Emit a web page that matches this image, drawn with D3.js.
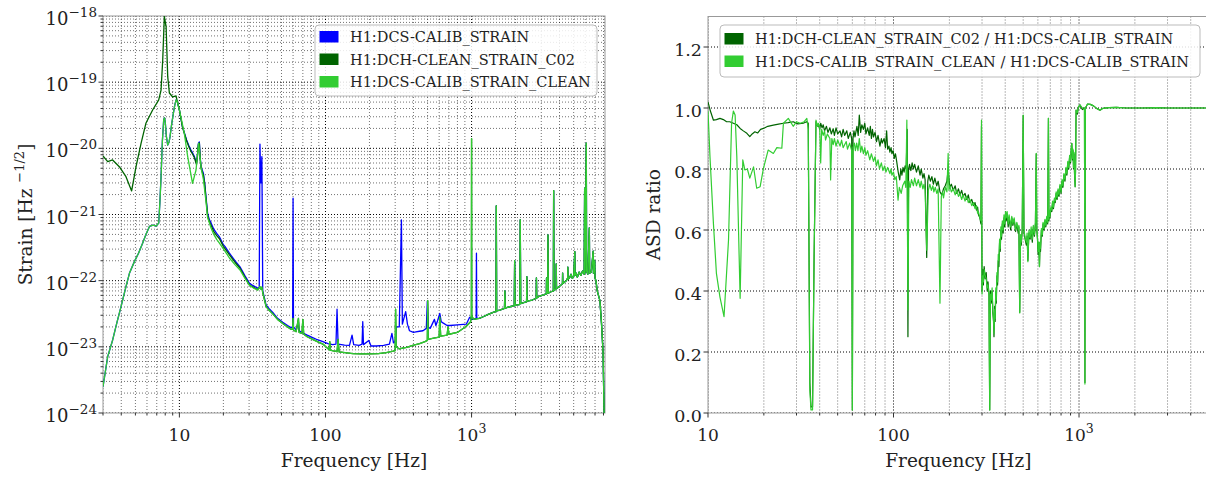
<!DOCTYPE html>
<html>
<head>
<meta charset="utf-8">
<script src="https://cdn.jsdelivr.net/npm/d3@7"></script>
<style>
  body { margin: 0; background: #fff; }
  svg { display: block; }
  text { font-family: "DejaVu Serif", serif; fill: #222; }
</style>
</head>
<body>
<svg id="chart" width="1206" height="478"></svg>
<script>
// ---------- Amplitude spectral densities, [frequency Hz, strain / sqrt(Hz)] ----------

// H1:DCS-CALIB_STRAIN, 3 Hz - 1.13 kHz
const calibBand = [
  [3.0,2.5e-24],[3.23,7.1e-24],[3.49,1.26e-23],[3.75,2.4e-23],[3.99,4.1e-23],[4.3,8e-23],[4.55,1.29e-22],
  [4.92,1.94e-22],[5.25,2.6e-22],[5.6,3.67e-22],[5.9,5.0e-22],[6.24,6.6e-22],[6.6,6.9e-22],[6.93,6.7e-22],
  [7.22,7.4e-22],[7.35,1.5e-21],[7.49,3.7e-21],[7.65,1.3e-20],[7.81,2.7e-20],[7.9,2.9e-20],[7.99,2.6e-20],
  [8.15,1.5e-20],[8.32,1.12e-20],[8.5,1.25e-20],[8.63,1.5e-20],[8.85,2.3e-20],[9.1,3.4e-20],[9.3,4.5e-20],
  [9.49,5.4e-20],[9.7,5.0e-20],[10.0,3.8e-20],[10.5,2.1e-20],[11.2,1.34e-20],[11.6,1.1e-20],[12.0,9.4e-21],
  [12.3,8.6e-21],[12.67,7.5e-21],[13.1,5.9e-21],[13.3,8e-21],[13.5,1.2e-20],[13.7,1.25e-20],[13.9,7e-21],
  [14.1,5.2e-21],[14.6,4.2e-21],[14.9,3e-21],[15.2,1.86e-21],[15.6,1.04e-21],[16.0,8.5e-22],[16.5,7.4e-22],
  [17.2,6.0e-22],[18.0,5.2e-22],[18.8,4.6e-22],[20.0,3.5e-22],[20.5,3.3e-22],[22.0,2.6e-22],[24.0,2.0e-22],
  [26.0,1.62e-22],[28,1.2e-22],[30.2,9.1e-23],[32,8.4e-23],[34.4,7.7e-23],[35.2,7.8e-23],[35.6,1.16e-20],
  [36.1,3.0e-21],[36.7,7.5e-21],[37.2,7.0e-23],[39.2,4.3e-23],[41,3.8e-23],[43.6,3.3e-23],[47,2.7e-23],
  [51,2.35e-23],[55,2.1e-23],[58,1.95e-23],[59.6,2e-23],[60,1.76e-21],[60.4,2e-23],[63,1.8e-23],[65.3,2.4e-23],
  [66,1.75e-23],[70,1.62e-23],[75,1.5e-23],[81.7,1.38e-23],[88,1.28e-23],[96,1.2e-23],[104,1.12e-23],
  [112,1.08e-23],[118,1.1e-23],[120,3.7e-23],[122,1.1e-23],[135,1.06e-23],[146,1.05e-23],[152,1.5e-23],
  [156,1.08e-23],[170,1.05e-23],[178,1.1e-23],[180,2.4e-23],[182,1.08e-23],[198,1.25e-23],[205,1.03e-23],
  [222,1.03e-23],[250,1.05e-23],[274,1.1e-23],[285,1.6e-23],[292,1.15e-23],[300,1.2e-23],[305,2.0e-23],
  [320,2.0e-23],[331,8.3e-22],[336,2.2e-23],[354,3.4e-23],[364,2.2e-23],[376,1.75e-23],[400,1.65e-23],
  [416,1.68e-23],[440,1.72e-23],[465,1.75e-23],[490,1.9e-23],[498,4.9e-23],[506,2.0e-23],[521,1.9e-23],
  [557,2.6e-23],[570,2.1e-23],[586,2.5e-23],[606,3.2e-23],[620,2.4e-23],[637,2.3e-23],[680,2.1e-23],
  [711,2.1e-23],[800,2.15e-23],[920,2.2e-23],[970,2.8e-23],[1000,2.6e-23],[1030,2.6e-23],[1075,2.7e-23],
  [1080,2.6e-22],[1086,2.7e-23]
];

// H1:DCH-CLEAN_STRAIN_C02, 3 - 40 Hz
const c02Band = [
  [3.0,7.66e-21],[3.23,6.3e-21],[3.49,6.67e-21],[3.88,5.28e-21],[4.31,3.73e-21],[4.71,2.27e-21],[5.05,5.3e-21],
  [5.47,1.2e-20],[5.91,2.42e-20],[6.56,3.8e-20],[7.22,5.4e-20],[7.49,7.6e-20],[7.69,2.16e-19],[7.89,9.8e-19],
  [8.11,6.9e-19],[8.32,1.21e-19],[8.54,6.85e-20],[9.0,5.97e-20],[9.49,6.2e-20],[9.7,5.0e-20],[10.0,3.8e-20],
  [10.5,2.1e-20],[11.2,1.3e-20],[11.6,1.06e-20],[12.0,9.0e-21],[12.3,8.2e-21],[12.67,7.2e-21],[13.1,5.7e-21],
  [13.3,7.7e-21],[13.5,1.15e-20],[13.7,1.2e-20],[13.9,6.7e-21],[14.1,4.9e-21],[14.6,3.9e-21],[14.9,2.8e-21],
  [15.2,1.75e-21],[15.6,9.7e-22],[16.0,7.9e-22],[16.5,6.8e-22],[17.2,5.5e-22],[18.0,4.8e-22],[18.8,4.3e-22],
  [20.0,3.3e-22],[22.0,2.45e-22],[24.0,1.9e-22],[26.0,1.54e-22],[28,1.14e-22],[30.2,8.6e-23],[32,8.0e-23],
  [34.4,7.3e-23],[35.6,8.1e-23],[36.2,7.4e-23],[36.7,8e-23],[37.2,6.6e-23],[39.2,4.1e-23]
];

// H1:DCS-CALIB_STRAIN_CLEAN, 3 - 40 Hz
const cleanBand = [
  [3.0,2.5e-24],[3.23,7.1e-24],[3.49,1.26e-23],[3.75,2.4e-23],[3.99,4.1e-23],[4.3,8e-23],[4.55,1.29e-22],
  [4.92,1.94e-22],[5.25,2.6e-22],[5.6,3.67e-22],[5.9,5.0e-22],[6.24,6.6e-22],[6.6,6.9e-22],[6.93,6.7e-22],
  [7.22,7.4e-22],[7.35,1.5e-21],[7.49,3.7e-21],[7.65,1.3e-20],[7.81,2.7e-20],[7.9,2.9e-20],[7.99,2.6e-20],
  [8.15,1.5e-20],[8.32,1.12e-20],[8.5,1.25e-20],[8.63,1.5e-20],[8.85,2.3e-20],[9.1,3.4e-20],[9.3,4.5e-20],
  [9.49,5.4e-20],[9.7,5.0e-20],[10.0,3.8e-20],[10.8,1.7e-20],[11.4,7.5e-21],[12.3,2.96e-21],[13.0,4.7e-21],
  [13.3,8e-21],[13.55,1.2e-20],[13.8,8e-21],[14.1,5e-21],[14.6,3.4e-21],[15.2,1.6e-21],[15.6,9.0e-22],
  [16.5,6.2e-22],[17.2,5.0e-22],[18,4.2e-22],[18.8,3.7e-22],[20.5,2.8e-22],[22,2.2e-22],[24,1.75e-22],
  [26,1.45e-22],[28,1.1e-22],[30.2,8.5e-23],[32,7.8e-23],[34.4,7.2e-23],[35.6,8.1e-23],[36.2,7.4e-23],
  [36.7,8e-23],[37.2,6.6e-23],[39.2,4.1e-23]
];

// Both cleaned channels, 40 Hz - 1.13 kHz
const cleanedMid = [
  [41,3.6e-23],[43.6,3.15e-23],[47,2.6e-23],[51,2.25e-23],[55,2.0e-23],[58,1.85e-23],[59.6,1.85e-23],
  [60,2.7e-23],[60.4,1.8e-23],[63,1.7e-23],[65.3,2.7e-23],[66,1.65e-23],[69,1.6e-23],[70,2.6e-23],
  [71,1.55e-23],[75,1.42e-23],[81.7,1.3e-23],[88,1.2e-23],[96,1.1e-23],[106,9.0e-24],[107,1.2e-23],
  [108,8.9e-24],[113,8.7e-24],[120,8.5e-24],[122,1.3e-23],[124,8.4e-24],[140,8.1e-24],[154,7.9e-24],
  [175,7.8e-24],[200,7.8e-24],[230,7.9e-24],[261,8.2e-24],[290,8.6e-24],[300,8.8e-24],[302,3.7e-23],
  [305,1.0e-23],[320,9.3e-24],[338,9.6e-24],[360,9.8e-24],[396,1.05e-23],[441,1.12e-23],[480,1.2e-23],
  [498,1.25e-23],[501,5.0e-23],[505,1.3e-23],[550,1.35e-23],[600,1.4e-23],[606,2.8e-23],[615,1.45e-23],
  [680,1.5e-23],[690,2.0e-23],[700,1.55e-23],[800,1.65e-23],[920,2.05e-23],[985,2.4e-23],[997,3e-23],
  [1000,1.4e-20],[1003,3e-23],[1030,2.6e-23]
];

// All three channels, 1.13 kHz - Nyquist
const highBand = [
  [1130,2.7e-23],[1200,2.85e-23],[1300,3.1e-23],[1420,3.35e-23],[1470,3.4e-23],[1477,1.35e-21],[1485,3.5e-23],
  [1560,3.6e-23],[1680,3.8e-23],[1690,7e-23],[1700,3.85e-23],[1800,4.0e-23],[1960,4.2e-23],[1972,2.0e-22],
  [1985,4.2e-23],[2050,4.3e-23],[2120,4.35e-23],[2140,4.5e-23],[2154,8.3e-22],[2170,4.5e-23],[2300,4.7e-23],
  [2380,4.8e-23],[2390,1.15e-22],[2400,4.9e-23],[2600,5.1e-23],[2770,5.4e-23],[2780,1.1e-22],[2795,5.5e-23],
  [2900,5.8e-23],[3100,6.1e-23],[3250,6.3e-23],[3260,1.1e-22],[3275,6.4e-23],[3320,6.5e-23],[3335,4.9e-22],
  [3350,6.5e-23],[3500,6.8e-23],[3630,7.0e-23],[3647,2.3e-21],[3665,7.1e-23],[3790,7.5e-23],[3800,1.8e-22],
  [3815,7.6e-23],[4000,8.2e-23],[4190,9.0e-23],[4200,1.3e-22],[4215,9.1e-23],[4450,1.0e-22],[4550,1.1e-22],
  [4560,1.6e-22],[4580,1.05e-22],[4700,1.12e-22],[4800,1.25e-22],[4900,1.08e-22],[5000,1.15e-22],
  [5090,2.75e-22],[5110,1.2e-22],[5200,1.3e-22],[5300,1.12e-22],[5450,1.35e-22],[5600,1.2e-22],[5750,1.4e-22],
  [5900,1.25e-22],[5943,2.5e-21],[5980,1.3e-22],[6100,1.2e-20],[6130,1.4e-22],[6250,1.25e-22],[6400,6.3e-22],
  [6430,1.3e-22],[6600,1.35e-22],[6800,2.8e-22],[6830,1.3e-22],[6970,2.0e-22],[7000,1.1e-22],[7100,1.0e-22],
  [7250,7e-23],[7560,5e-23],[7750,2.3e-23],[7950,8e-24],[8050,1.5e-24],[8150,3e-25]
];

// ---------- ASD ratios against H1:DCS-CALIB_STRAIN, [frequency Hz, ratio] ----------
const ratioC02 = [
  [10,1.02],[10.3,0.99],[10.7,0.96],[11.1,0.962],[11.6,0.966],[12.1,0.962],[12.6,0.955],[13.1,0.955],
  [13.7,0.95],[14.3,0.945],[14.9,0.933],[15.5,0.925],[16.2,0.917],[16.8,0.906],[17.3,0.915],[17.9,0.922],
  [18.5,0.918],[19.2,0.93],[19.9,0.933],[21,0.94],[22.5,0.944],[24,0.947],[25.5,0.95],[27,0.952],[28.8,0.955],
  [30.5,0.948],[32.6,0.95],[34,0.955],[34.7,0.95],[35.4,0.1],[35.9,0.02],[36.6,0.02],[37.3,0.5],
  [38.2,0.955],[39,0.94],[39.4,0.945],[40,0.93],[40.5,0.95],[41.2,0.935],[41.8,0.945],[42.5,0.925],
  [43.5,0.94],[44.3,0.92],[45.4,0.935],[46.2,0.915],[47.3,0.932],[48,0.91],[49,0.935],[50,0.915],
  [51.5,0.925],[52.5,0.905],[53.5,0.93],[54.5,0.91],[56,0.925],[57,0.9],[58.5,0.92],[59.5,0.9],[60,0.01],
  [60.5,0.9],[61.2,0.925],[62,0.905],[63.5,0.94],[64.5,0.91],[65.4,0.977],[66.5,0.92],[67.5,0.945],
  [68.8,0.93],[70,0.95],[71,0.915],[72.5,0.935],[74,0.91],[75,0.94],[76,0.9],[77,0.93],[78,0.905],
  [79.5,0.92],[81,0.89],[82.5,0.91],[84.5,0.875],[86,0.9],[87,0.885],[89,0.9],[90.5,0.87],[91.8,0.925],
  [93,0.865],[94.5,0.875],[95.6,0.855],[97,0.87],[98,0.85],[99.5,0.86],[101,0.835],[102.5,0.85],[104,0.825],
  [106,0.79],[108,0.764],[109.5,0.8],[111,0.78],[112.5,0.805],[114,0.79],[115.5,0.81],[117,0.8],[118.5,0.93],
  [119.6,0.25],[120.5,0.8],[122,0.815],[124,0.795],[126,0.82],[128,0.8],[130,0.815],[133,0.79],[136,0.81],
  [139,0.78],[141,0.8],[144,0.77],[146,0.785],[148,0.765],[151,0.51],[153,0.76],[155,0.78],[158,0.76],
  [161,0.775],[164,0.75],[167,0.77],[171,0.745],[174,0.76],[178,0.725],[182,0.715],[186,0.735],[190,0.745],
  [194,0.76],[197,0.8],[201,0.74],[205,0.75],[210,0.73],[215,0.745],[219,0.72],[224,0.735],[228,0.715],
  [233,0.73],[237,0.71],[243,0.72],[248,0.7],[253,0.715],[258,0.69],[264,0.7],[270,0.68],[275,0.69],
  [280,0.665],[284,0.675],[287,0.65],[292,0.64],[296,0.62],[298,0.94],[300,0.4],[303,0.47],[305,0.42],
  [308,0.48],[312,0.44],[316,0.46],[320,0.4],[323,0.43],[327,0.39],[330,0.01],[333,0.4],[336,0.36],[340,0.4],
  [343,0.33],[346,0.3],[348,0.25],[351,0.35],[353,0.3],[356,0.4],[358,0.36],[361,0.45],[364,0.42],[367,0.5],
  [370,0.48],[373,0.56],[376,0.53],[379,0.6],[382,0.57],[386,0.62],[390,0.59],[394,0.64],[398,0.61],
  [402,0.66],[405,0.63],[410,0.65],[415,0.61],[420,0.64],[428,0.6],[434,0.64],[440,0.615],[447,0.635],
  [455,0.595],[462,0.62],[470,0.59],[474,0.61],[479,0.33],[484,0.58],[488,0.55],[494,0.6],[500,0.975],
  [505,0.59],[512,0.57],[520,0.55],[525,0.58],[530,0.5],[537,0.59],[545,0.57],[552,0.6],[560,0.56],
  [567,0.61],[575,0.58],[582,0.62],[588,0.85],[592,0.6],[597,0.57],[602,0.52],[607,0.55],[612,0.48],
  [616,0.55],[620,0.53],[627,0.6],[634,0.58],[640,0.62],[647,0.6],[655,0.63],[662,0.61],[670,0.64],
  [678,0.62],[684,0.966],[688,0.63],[693,0.66],[697,0.64],[705,0.67],[713,0.66],[720,0.69],[728,0.67],
  [737,0.7],[745,0.69],[753,0.72],[762,0.7],[771,0.73],[780,0.71],[790,0.745],[800,0.72],[810,0.76],
  [819,0.74],[829,0.78],[840,0.76],[850,0.8],[860,0.78],[870,0.82],[880,0.8],[890,0.84],[900,0.82],
  [907,0.86],[914,0.884],[922,0.83],[928,0.86],[934,0.8],[940,0.85],[946,0.78],[953,0.742],[958,0.8],
  [964,0.993],[979,0.98],[993,1.004],[1012,1.01],[1042,0.995],[1070,1.0],[1076,0.1],[1082,1.0],
  [1112,1.013],[1150,1.012],[1197,1.007],[1250,0.998],[1297,0.993],[1346,0.999],[1450,1.001],[1594,1.002],
  [1800,1.0],[2200,1.0],[2600,1.001],[3000,1.0],[3500,1.0],[4000,1.0],[4500,1.0],[5000,1.0]
];

const ratioClean = [
  [10,0.99],[10.25,0.84],[10.7,0.62],[11.1,0.458],[11.6,0.38],[12.2,0.316],[12.9,0.567],[13.4,0.95],
  [13.7,0.99],[14.0,0.977],[14.3,0.84],[14.9,0.376],[15.4,0.83],[15.8,0.797],[16.3,0.8],[16.8,0.77],
  [17.6,0.807],[18.3,0.737],[19.1,0.742],[19.9,0.802],[21.1,0.862],[22.5,0.851],[23.5,0.87],[25,0.868],
  [25.5,0.95],[27.1,0.966],[28.8,0.94],[30,0.955],[31.4,0.95],[33,0.955],[34.1,0.966],[34.7,0.93],
  [35.4,0.075],[35.9,0.01],[36.6,0.01],[37.3,0.51],
  [38.2,0.96],[39,0.94],[39.4,0.95],[40,0.935],[40.5,0.82],[41,0.93],[41.8,0.91],[42.5,0.925],[43,0.895],
  [44,0.915],[45.4,0.9],[45.8,0.764],[46.5,0.9],[47.3,0.88],[48,0.9],[49,0.875],[50,0.895],[51.5,0.875],
  [52.5,0.895],[53.5,0.87],[55.6,0.89],[56.5,0.865],[58,0.885],[59.5,0.86],[60,0.01],[60.5,0.87],
  [61.5,0.885],[62.3,0.86],[63.3,0.885],[64.3,0.86],[65.4,0.9],[66.5,0.855],[67.5,0.875],[68.8,0.85],
  [70,0.87],[71,0.845],[72.5,0.86],[74.5,0.83],[76,0.85],[78,0.825],[79.5,0.84],[80.9,0.81],[82.5,0.83],
  [84,0.8],[86,0.82],[87.7,0.795],[89.5,0.81],[91,0.79],[93,0.805],[95.6,0.785],[97,0.8],[98,0.78],
  [100,0.79],[101.6,0.765],[103.5,0.775],[105.8,0.698],[107.5,0.74],[110,0.72],[112,0.745],[115,0.76],
  [116.5,0.74],[118,0.96],[119.6,0.338],[121,0.76],[123,0.74],[125,0.765],[128,0.745],[130,0.77],
  [133,0.745],[136,0.765],[139,0.74],[141,0.76],[144,0.735],[146,0.75],[148,0.73],[151,0.534],[154,0.73],
  [157,0.75],[160,0.73],[163,0.745],[165,0.725],[168,0.74],[171,0.72],[174,0.735],[178,0.36],[181,0.71],
  [184,0.725],[186,0.705],[190,0.74],[194,0.725],[197,0.851],[199,0.73],[201,0.745],[205,0.725],[210,0.735],
  [215,0.715],[219,0.73],[224,0.71],[228,0.72],[233,0.7],[237,0.715],[243,0.695],[248,0.71],[253,0.69],
  [258,0.7],[264,0.68],[270,0.69],[275,0.67],[280,0.68],[284,0.655],[287,0.66],[292,0.64],[296,0.63],
  [298,0.96],[300,0.39],[303,0.45],[305,0.43],[308,0.47],[312,0.45],[316,0.44],[320,0.41],[323,0.42],
  [327,0.385],[330,0.01],[333,0.39],[336,0.37],[340,0.41],[343,0.34],[346,0.31],[348,0.26],[351,0.34],
  [353,0.31],[356,0.41],[358,0.37],[361,0.46],[364,0.43],[367,0.52],[370,0.5],[373,0.57],[376,0.54],
  [379,0.61],[382,0.58],[386,0.63],[390,0.6],[394,0.65],[398,0.62],[402,0.66],[405,0.64],[410,0.66],
  [415,0.62],[420,0.65],[428,0.61],[434,0.645],[440,0.62],[447,0.64],[455,0.6],[462,0.625],[470,0.6],
  [474,0.615],[479,0.328],[484,0.585],[488,0.56],[494,0.6],[500,0.977],[505,0.6],[512,0.575],[520,0.56],
  [525,0.59],[530,0.496],[537,0.6],[545,0.575],[552,0.61],[560,0.57],[567,0.615],[575,0.585],[582,0.625],
  [588,0.851],[592,0.61],[597,0.575],[602,0.53],[607,0.56],[612,0.48],[616,0.56],[620,0.54],[627,0.605],
  [634,0.585],[640,0.625],[647,0.605],[655,0.635],[662,0.615],[670,0.645],[678,0.625],[684,0.966],
  [688,0.635],[693,0.665],[697,0.645],[705,0.675],[713,0.665],[720,0.695],[728,0.675],[737,0.705],
  [745,0.695],[753,0.725],[762,0.705],[771,0.735],[780,0.715],[790,0.75],[800,0.725],[810,0.765],
  [819,0.745],[829,0.785],[840,0.765],[850,0.805],[860,0.785],[870,0.825],[880,0.805],[890,0.845],
  [900,0.825],[907,0.865],[914,0.884],[922,0.835],[928,0.865],[934,0.805],[940,0.855],[946,0.785],
  [953,0.742],[958,0.805],[964,0.993],[979,0.985],[993,1.004],[1012,1.01],[1042,1.0],[1070,1.0],
  [1076,0.095],[1082,1.0],[1112,1.013],[1150,1.012],[1197,1.007],[1250,0.998],[1297,0.993],[1346,0.999],
  [1450,1.001],[1594,1.002],[1800,1.0],[2200,1.0],[2600,1.001],[3000,1.0],[3500,1.0],[4000,1.0],
  [4500,1.0],[5000,1.0]
];

// ---------- Labels ----------
const asdSeries = [
  { name: "H1:DCS-CALIB_STRAIN",       color: "#0000ff", data: calibBand.concat(highBand) },
  { name: "H1:DCH-CLEAN_STRAIN_C02",   color: "#006400", data: c02Band.concat(cleanedMid, highBand) },
  { name: "H1:DCS-CALIB_STRAIN_CLEAN", color: "#32cd32", data: cleanBand.concat(cleanedMid, highBand) }
];
const ratioSeries = [
  { name: "H1:DCH-CLEAN_STRAIN_C02 / H1:DCS-CALIB_STRAIN",   color: "#006400", data: ratioC02 },
  { name: "H1:DCS-CALIB_STRAIN_CLEAN / H1:DCS-CALIB_STRAIN", color: "#32cd32", data: ratioClean }
];
const asdYTicks = [-24, -23, -22, -21, -20, -19, -18];   // decade exponents
const freqTicks = [10, 100, 1000];
const ratioTicks = [0.0, 0.2, 0.4, 0.6, 0.8, 1.0, 1.2];

// ---------- Drawing ----------
const svg = d3.select("#chart");

const xL = d3.scaleLog().domain([3, 8192]).range([103, 605]);
const yL = d3.scaleLog().domain([1e-24, 1e-18]).range([413, 16]);
const xR = d3.scaleLog().domain([10, 5000]).range([708, 1208.7]);
const yR = d3.scaleLinear().domain([0, 1.3]).range([413, 16.5]);

function logMinor(domain) {
  const out = [];
  const lo = Math.floor(Math.log10(domain[0])), hi = Math.ceil(Math.log10(domain[1]));
  for (let e = lo; e <= hi; e++) for (let k = 2; k <= 9; k++) {
    const v = k * Math.pow(10, e);
    if (v >= domain[0] * 0.999 && v <= domain[1] * 1.001) out.push(v);
  }
  return out;
}

function freqLabel(sel, v) {
  if (v >= 1000) {
    sel.append("tspan").text("10");
    sel.append("tspan").attr("dy", -8).attr("font-size", 12.5).text(String(Math.round(Math.log10(v))));
  } else sel.text(String(v));
}

function panel(cfg) {
  const { x, y, id } = cfg;
  const [x0, x1] = x.range(); const [y1, y0] = y.range();
  const g = svg.append("g");
  g.append("clipPath").attr("id", id).append("rect")
    .attr("x", x0).attr("y", y0).attr("width", x1 - x0).attr("height", y1 - y0);

  const grid = g.append("g").attr("clip-path", `url(#${id})`);
  const gl = (vals, vert, major) => grid.selectAll(null).data(vals).enter().append("line")
    .attr("x1", d => vert ? x(d) : x0).attr("x2", d => vert ? x(d) : x1)
    .attr("y1", d => vert ? y0 : y(d)).attr("y2", d => vert ? y1 : y(d))
    .attr("stroke", "#000").attr("stroke-opacity", major ? 1 : 0.7)
    .attr("stroke-width", major ? 1 : 0.8).attr("stroke-dasharray", "1,2");
  gl(cfg.xMinor, true, false); gl(cfg.xMajor, true, true);
  if (cfg.yMinor) gl(cfg.yMinor, false, false);
  gl(cfg.yMajor, false, true);

  // spines
  g.append("rect").attr("x", x0).attr("y", y0).attr("width", x1 - x0).attr("height", y1 - y0)
    .attr("fill", "none").attr("stroke", "#999").attr("stroke-width", 1);

  const lines = g.append("g").attr("clip-path", `url(#${id})`);
  const line = d3.line().x(d => x(d[0])).y(d => y(d[1]));
  cfg.series.forEach(s => lines.append("path").datum(s.data).attr("d", line)
    .attr("fill", "none").attr("stroke", s.color).attr("stroke-width", cfg.lw)
    .attr("stroke-linejoin", "round"));

  // ticks
  const tk = g.append("g").attr("stroke", "#333");
  tk.selectAll(null).data(cfg.xMajor).enter().append("line")
    .attr("x1", d => x(d)).attr("x2", d => x(d)).attr("y1", y1).attr("y2", y1 + 4.5);
  tk.selectAll(null).data(cfg.xMinor).enter().append("line")
    .attr("x1", d => x(d)).attr("x2", d => x(d)).attr("y1", y1).attr("y2", y1 + 2.5);
  tk.selectAll(null).data(cfg.yMajor).enter().append("line")
    .attr("x1", x0 - 4.5).attr("x2", x0).attr("y1", d => y(d)).attr("y2", d => y(d));
  if (cfg.yMinor) tk.selectAll(null).data(cfg.yMinor).enter().append("line")
    .attr("x1", x0 - 2.5).attr("x2", x0).attr("y1", d => y(d)).attr("y2", d => y(d));

  // tick labels
  cfg.xMajor.forEach(v => {
    const t = g.append("text").attr("x", x(v)).attr("y", 441).attr("text-anchor", "middle")
      .attr("font-size", 17);
    freqLabel(t, v);
  });
  cfg.yMajor.forEach(v => {
    const t = g.append("text").attr("x", x0 - 6).attr("y", y(v) + 9).attr("text-anchor", "end")
      .attr("font-size", cfg.yTickSize);
    cfg.yLabel(t, v);
  });

  // axis titles
  g.append("text").attr("x", (x0 + x1) / 2).attr("y", 467).attr("text-anchor", "middle")
    .attr("font-size", 18.5).text("Frequency [Hz]");
  const yt = g.append("text").attr("transform", `translate(${cfg.yTitleX},${(y0 + y1) / 2}) rotate(-90)`)
    .attr("text-anchor", "middle").attr("font-size", 18.5);
  cfg.yTitle(yt);

  // legend
  const L = cfg.legend;
  const lg = g.append("g");
  lg.append("rect").attr("x", L.x).attr("y", L.y).attr("width", L.w).attr("height", L.h).attr("rx", 4)
    .attr("fill", "#fff").attr("fill-opacity", 0.85).attr("stroke", "#bbb").attr("stroke-width", 1);
  cfg.series.forEach((s, i) => {
    const yy = L.y + L.first + i * L.step;
    lg.append("rect").attr("x", L.x + 4.5).attr("y", yy - 11).attr("width", 19).attr("height", 11.5)
      .attr("fill", s.color);
    lg.append("text").attr("x", L.x + 35).attr("y", yy).attr("font-size", 14.5).text(s.name);
  });
}

panel({
  id: "clipAsd", x: xL, y: yL, lw: 1.3, yTickSize: 18,
  xMajor: freqTicks.filter(v => v >= 3 && v <= 8192), xMinor: logMinor([3, 8192]),
  yMajor: asdYTicks.map(e => Math.pow(10, e)), yMinor: logMinor([1e-24, 1e-18]),
  yLabel: (t, v) => {
    t.append("tspan").text("10");
    t.append("tspan").attr("dy", -8).attr("font-size", 13.5).text("\u2212" + Math.abs(Math.round(Math.log10(v))));
  },
  yTitleX: 32,
  yTitle: t => {
    t.append("tspan").text("Strain [Hz ");
    t.append("tspan").attr("dy", -8).attr("font-size", 13).text("\u22121/2");
    t.append("tspan").attr("dy", 8).text("]");
  },
  series: asdSeries,
  legend: { x: 315, y: 25, w: 282, h: 71, first: 17, step: 22.5 }
});

panel({
  id: "clipRatio", x: xR, y: yR, lw: 1.2, yTickSize: 17.5,
  xMajor: freqTicks, xMinor: logMinor([10, 5000]),
  yMajor: ratioTicks, yMinor: null,
  yLabel: (t, v) => t.text(v.toFixed(1)),
  yTitleX: 660,
  yTitle: t => t.text("ASD ratio"),
  series: ratioSeries,
  legend: { x: 720, y: 25, w: 480, h: 52, first: 19, step: 22.5 }
});
</script>
</body>
</html>
